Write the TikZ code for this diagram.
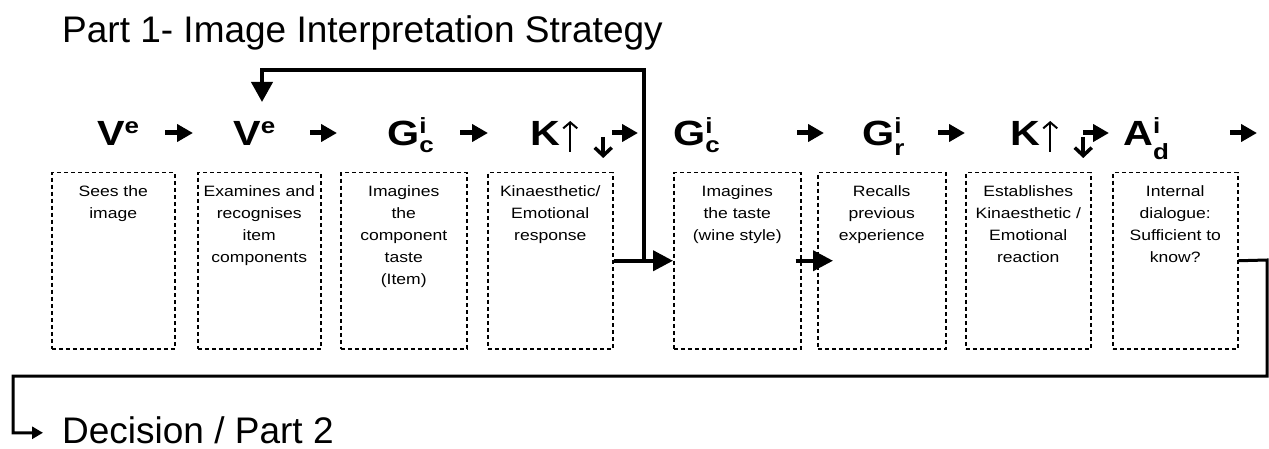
\documentclass[tikz,border=0pt]{standalone}
\usepackage{fontspec}
\setmainfont{Liberation Sans}
\newfontfamily\boxfont[FakeStretch=1.17]{Liberation Sans}
\newfontfamily\hdrfont[FakeStretch=1.18]{Liberation Sans}
\usetikzlibrary{arrows.meta}
\newcommand{\hsmall}{\fontsize{22}{22}\selectfont}
\newcommand{\hsup}[1]{\raisebox{12pt}{\hsmall #1}}
\newcommand{\supsub}[3]{\rlap{\raisebox{12pt}{\hsmall #1}}\raisebox{-#3}{\hsmall #2}}
\begin{document}
\begin{tikzpicture}[x=1pt,y=-1pt,
  box/.style={draw, line width=1.5pt, dash pattern=on 4pt off 3pt, minimum height=176pt, inner sep=0pt, anchor=north west},
  boxtext/.style={anchor=north, align=center, font=\boxfont\fontsize{15}{22}\selectfont, inner sep=0pt},
  hdr/.style={anchor=base west, inner sep=0pt, font=\hdrfont\fontsize{35}{35}\selectfont\bfseries},
  bigtext/.style={anchor=base west, inner sep=0pt, font=\fontsize{37}{37}\selectfont},
  harrow/.style={line width=5pt, -{Triangle[length=16pt,width=17pt]}},
  uparr/.style={line width=2pt, -{Straight Barb[length=6pt,width=14pt]}},
  downarr/.style={line width=3.5pt, -{Straight Barb[length=8pt,width=17pt]}},
  bigarrow/.style={line width=4pt, -{Triangle[length=20pt,width=20pt]}},
  fbarrow/.style={line width=4pt, -{Triangle[length=20pt,width=21pt]}},
  botarrow/.style={line width=3pt, -{Triangle[length=11pt,width=12pt]}}
]
\useasboundingbox (0,0) rectangle (1269,449);

\node[bigtext] (title) at (62,43) {Part 1- Image Interpretation Strategy};

% boxes
\node[box, minimum width=123pt] (b1) at (51,172) {};
\node[box, minimum width=123pt] (b2) at (197,172) {};
\node[box, minimum width=126pt] (b3) at (340,172) {};
\node[box, minimum width=125pt] (b4) at (487,172) {};
\node[box, minimum width=127pt] (b5) at (673,172) {};
\node[box, minimum width=128pt] (b6) at (817,172) {};
\node[box, minimum width=125pt] (b7) at (965,172) {};
\node[box, minimum width=125pt] (b8) at (1112,172) {};

% box texts
\node[boxtext] (t1) at ([yshift=-13pt]b1.north) {Sees the\\image};
\node[boxtext] (t2) at ([yshift=-13pt]b2.north) {Examines and\\recognises\\item\\components};
\node[boxtext] (t3) at ([yshift=-13pt]b3.north) {Imagines\\the\\component\\taste\\(Item)};
\node[boxtext] (t4) at ([yshift=-13pt]b4.north) {Kinaesthetic/\\Emotional\\response};
\node[boxtext] (t5) at ([yshift=-13pt]b5.north) {Imagines\\the taste\\(wine style)};
\node[boxtext] (t6) at ([yshift=-13pt]b6.north) {Recalls\\previous\\experience};
\node[boxtext] (t7) at ([yshift=-13pt]b7.north) {Establishes\\Kinaesthetic /\\Emotional\\reaction};
\node[boxtext] (t8) at ([yshift=-13pt]b8.north) {Internal\\dialogue:\\Sufficient to\\know?};

% headers
\node[hdr] (h1) at (97,146) {V\hsup{e}};
\node[hdr] (h2) at (233,146) {V\hsup{e}};
\node[hdr] (h3) at (387,146) {G\supsub{i}{c}{7pt}};
\node[hdr] (h4) at (530,146) {K};
\node[hdr] (h5) at (673,146) {G\supsub{i}{c}{7pt}};
\node[hdr] (h6) at (862,146) {G\supsub{i}{r}{10pt}};
\node[hdr] (h7) at (1010,146) {K};
\node[hdr] (h8) at (1123,146) {A\supsub{i}{d}{14pt}};

% up/down marks of the K headers
\foreach \k in {4,7} {
  \draw[uparr] ([xshift=10pt,yshift=-6pt]h\k.base east) -- ([xshift=10pt,yshift=25pt]h\k.base east);
  \draw[downarr] ([xshift=43pt,yshift=9pt]h\k.base east) -- ([xshift=43pt,yshift=-12pt]h\k.base east);
}

% header arrows
\coordinate (a1s) at (165,133); \coordinate (a1e) at (193,133);
\coordinate (a2s) at (310,133); \coordinate (a2e) at (337,133);
\coordinate (a3s) at (460,133); \coordinate (a3e) at (488,133);
\coordinate (a4s) at (612,133); \coordinate (a4e) at (638,133);
\coordinate (a5s) at (797,133); \coordinate (a5e) at (824,133);
\coordinate (a6s) at (938,133); \coordinate (a6e) at (965,133);
\coordinate (a7s) at (1083,133); \coordinate (a7e) at (1109,133);
\coordinate (a8s) at (1230,133); \coordinate (a8e) at (1257,133);
\foreach \i in {1,...,8} {\draw[harrow] (a\i s) -- (a\i e);}

% main arrows between boxes
\draw[bigarrow] (b4.east) -- (b5.west);
\draw[bigarrow] ([xshift=-6pt]b5.east) -- ([xshift=16pt]b6.west);

% feedback loop
\coordinate (j) at (644,260);
\coordinate (fbtop) at (644,70);
\coordinate (fbend) at (262,102);
\draw[fbarrow] (j) -- (fbtop) -| (fbend);

% exit to decision
\node[bigtext] (dec) at (62,443) {Decision / Part 2};
\coordinate (r1) at (1267,260);
\coordinate (l1) at (13,376);
\draw[botarrow] (b8.east) -- (r1) |- (l1) |- ([xshift=-19pt,yshift=-3pt]dec.west);
\end{tikzpicture}
\end{document}
